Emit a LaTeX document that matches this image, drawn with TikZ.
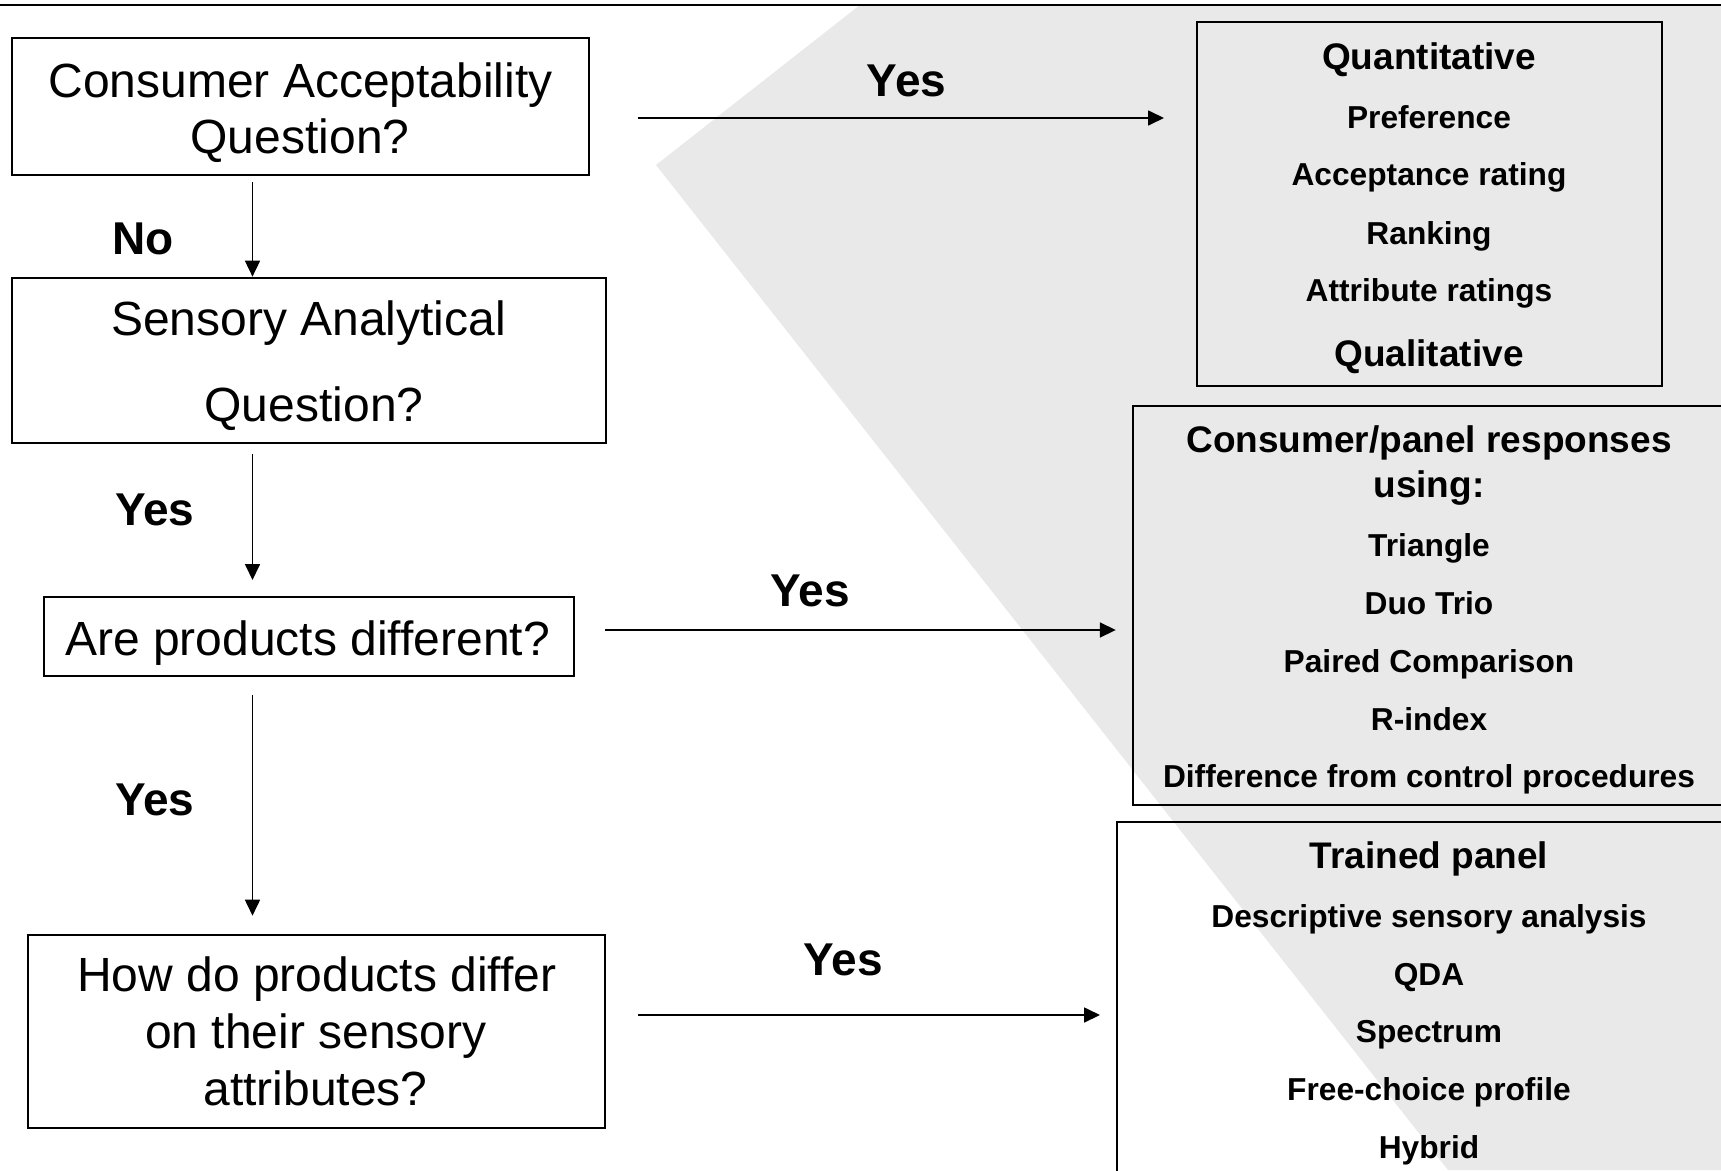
\documentclass[tikz,border=0pt]{standalone}
\usepackage{fontspec}
\setmainfont{Liberation Sans}
\usetikzlibrary{arrows.meta}
\definecolor{backdrop}{RGB}{233,233,233}
\begin{document}
\begin{tikzpicture}[x=1pt,y=-1pt,
  qbox/.style={draw=black, line width=2pt, inner sep=0pt, rectangle},
  qtext/.style={anchor=base, inner sep=0pt, font=\fontsize{48}{56}\selectfont},
  head/.style={anchor=base, inner sep=0pt, font=\bfseries\fontsize{37}{44}\selectfont},
  item/.style={anchor=base, inner sep=0pt, font=\bfseries\fontsize{31.7}{38}\selectfont},
  answer/.style={anchor=base, inner sep=0pt, font=\bfseries\fontsize{46}{54}\selectfont},
  arr/.style={line width=1.7pt, -{Triangle[length=16pt,width=15pt]}}
]
\useasboundingbox (0,0) rectangle (1721,1170);
\clip (0,0) rectangle (1721,1170);
\fill[white] (0,0) rectangle (1721,1170);

% grey backdrop and rule along the top
\fill[backdrop] (860,5) -- (1721,5) -- (1721,1170) -- (1448,1170) -- (656,165) -- cycle;
\draw[line width=2.5pt] (0,5) -- (1721,5);

% question boxes (left column)
\node[qbox, minimum width=577pt,   minimum height=137pt]   (A) at (300.5,106.5) {};
\node[qbox, minimum width=593.5pt, minimum height=165.7pt] (B) at (308.75,360.5) {};
\node[qbox, minimum width=529.5pt, minimum height=79pt]    (C) at (309.2,636.5) {};
\node[qbox, minimum width=577pt,   minimum height=193.8pt] (D) at (316.5,1031.4) {};

\node[qtext] (a1) at (300.5,97.3)  {Consumer Acceptability};
\node[qtext] (a2) at (300,153.3)   {Question?};
\node[qtext] (b1) at (308.5,335.5) {Sensory Analytical};
\node[qtext] (b2) at (314,421)     {Question?};
\node[qtext] (c1) at (307.5,655)   {Are products different?};
\node[qtext] (d1) at (316.7,991.7) {How do products differ};
\node[qtext] (d2) at (316,1048.3)  {on their sensory};
\node[qtext] (d3) at (315.6,1105)  {attributes?};

% method boxes (right column)
\node[qbox, minimum width=465pt,   minimum height=363.7pt] (E) at (1429,204.2) {};
\node[qbox, minimum width=593pt,   minimum height=399pt]   (F) at (1429,605.5) {};
\node[qbox, minimum width=624.8pt, minimum height=368pt]   (G) at (1429,1005.5) {};

\node[head] (e1) at (1429,69.3)  {Quantitative};
\node[item] (e2) at (1429,128.3) {Preference};
\node[item] (e3) at (1429,185.7) {Acceptance rating};
\node[item] (e4) at (1429,244.3) {Ranking};
\node[item] (e5) at (1429,301)   {Attribute ratings};
\node[head] (e6) at (1429,366)   {Qualitative};

\node[head] (f1) at (1429,452.7) {Consumer/panel responses};
\node[head] (f2) at (1429,497.3) {using:};
\node[item] (f3) at (1429,556.7) {Triangle};
\node[item] (f4) at (1429,614.3) {Duo Trio};
\node[item] (f5) at (1429,672.3) {Paired Comparison};
\node[item] (f6) at (1429,730)   {R-index};
\node[item] (f7) at (1429,787.3) {Difference from control procedures};

\node[head] (g1) at (1429,868.3)  {Trained panel};
\node[item] (g2) at (1429,927.3)  {Descriptive sensory analysis};
\node[item] (g3) at (1429,985)    {QDA};
\node[item] (g4) at (1429,1042.7) {Spectrum};
\node[item] (g5) at (1429,1100.7) {Free-choice profile};
\node[item] (g6) at (1429,1158.3) {Hybrid};

% connector guides
\coordinate (colx) at (252.5,0);
\coordinate (rowAE) at (0,118);
\coordinate (rowCF) at (0,630);
\coordinate (rowDG) at (0,1015);

% connectors
\draw[arr, shorten <=6pt]                   (A.south -| colx) -- (B.north -| colx);
\draw[arr, shorten <=9.5pt, shorten >=16pt] (B.south -| colx) -- (C.north -| colx);
\draw[arr, shorten <=17.7pt, shorten >=17.8pt] (C.south -| colx) -- (D.north -| colx);
\draw[arr, shorten <=47.6pt, shorten >=31.5pt] (A.east |- rowAE) -- (E.west |- rowAE);
\draw[arr, shorten <=30.5pt, shorten >=15.7pt] (C.east |- rowCF) -- (F.west |- rowCF);
\draw[arr, shorten <=32pt, shorten >=15.6pt]   (D.east |- rowDG) -- (G.west |- rowDG);

% answer labels
\node[answer] (no1)  at (142.7,254.2) {No};
\node[answer] (yes1) at (154.8,525)   {Yes};
\node[answer] (yes2) at (154.8,815)   {Yes};
\node[answer] (yes3) at (906.6,96)    {Yes};
\node[answer] (yes4) at (810,606.7)   {Yes};
\node[answer] (yes5) at (843,975)     {Yes};
\end{tikzpicture}
\end{document}
